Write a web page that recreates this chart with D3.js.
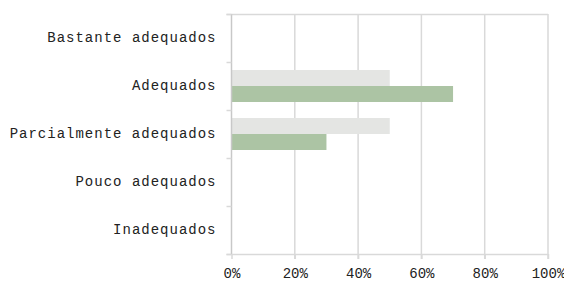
<!DOCTYPE html>
<html>
<head>
<meta charset="utf-8">
<script src="https://cdn.jsdelivr.net/npm/d3@7"></script>
<style>
  body { margin: 0; background: #fff; }
  svg { display: block; }
</style>
</head>
<body>
<div id="chart"></div>
<script>
// categories top to bottom
const categories = ["Bastante adequados", "Adequados", "Parcialmente adequados", "Pouco adequados", "Inadequados"];
const seriesNames = ["Série 1", "Série 2"];
const serie1 = [0, 0.50, 0.50, 0, 0];   // light grey
const serie2 = [0, 0.70, 0.30, 0, 0];   // green
const xTicks = [0, 0.2, 0.4, 0.6, 0.8, 1];

const colors = ["#e4e5e3", "#acc4a4"];

const W = 564, H = 284;
const margin = { top: 14, right: 15, bottom: 30, left: 231.5 };
const width = 548 - margin.left;
const height = 254 - margin.top;

const svg = d3.select("#chart").append("svg")
  .attr("width", W)
  .attr("height", H);

const g = svg.append("g")
  .attr("transform", `translate(${margin.left},${margin.top})`);

const x = d3.scaleLinear().domain([0, 1]).range([0, width]);
const y = d3.scaleBand().domain(categories).range([0, height]).paddingInner(0).paddingOuter(0);
const inner = d3.scaleBand().domain(seriesNames).range([0, y.bandwidth()]).paddingInner(0).paddingOuter(0.5);

// vertical gridlines
g.selectAll(".grid")
  .data(xTicks.slice(1))
  .enter().append("line")
  .attr("x1", d => x(d))
  .attr("x2", d => x(d))
  .attr("y1", 0)
  .attr("y2", height + 5)
  .attr("stroke", "#d9d9d9")
  .attr("stroke-width", 1.5);

// top border line
g.append("line")
  .attr("x1", -5).attr("x2", x(1))
  .attr("y1", 0.5).attr("y2", 0.5)
  .attr("stroke", "#d9d9d9").attr("stroke-width", 1.5);

// bars
const data = [];
categories.forEach((c, i) => {
  data.push({ cat: c, s: seriesNames[0], v: serie1[i] });
  data.push({ cat: c, s: seriesNames[1], v: serie2[i] });
});

g.selectAll(".bar")
  .data(data.filter(d => d.v > 0))
  .enter().append("rect")
  .attr("class", "bar")
  .attr("x", 0)
  .attr("y", d => y(d.cat) + inner(d.s))
  .attr("width", d => x(d.v))
  .attr("height", inner.bandwidth())
  .attr("fill", d => colors[seriesNames.indexOf(d.s)]);

// x axis
const xAxis = g.append("g")
  .attr("transform", `translate(0,${height})`)
  .call(d3.axisBottom(x).tickValues(xTicks).tickFormat(d3.format(".0%")).tickSize(5).tickSizeOuter(0).tickPadding(9));
xAxis.select(".domain").attr("stroke", "#d9d9d9").attr("stroke-width", 1.5).attr("d", `M-5,0.5H${x(1)}`);
xAxis.selectAll(".tick line").attr("stroke", "#d9d9d9").attr("stroke-width", 1.5);
xAxis.selectAll(".tick text")
  .attr("fill", "#222")
  .style("font-family", "'Liberation Mono', monospace")
  .style("font-size", "14px");

// y axis line and ticks at band boundaries
g.append("line")
  .attr("x1", 0).attr("x2", 0)
  .attr("y1", 0).attr("y2", height)
  .attr("stroke", "#c8c8c8").attr("stroke-width", 1.5);

g.selectAll(".ytick")
  .data(d3.range(categories.length + 1))
  .enter().append("line")
  .attr("x1", -5).attr("x2", 0)
  .attr("y1", i => i * y.step() + 0.5)
  .attr("y2", i => i * y.step() + 0.5)
  .attr("stroke", "#d9d9d9").attr("stroke-width", 1.5);

// category labels
g.selectAll(".ylabel")
  .data(categories)
  .enter().append("text")
  .attr("x", -15)
  .attr("y", d => y(d) + y.bandwidth() / 2 - 1)
  .attr("dy", "0.35em")
  .attr("text-anchor", "end")
  .attr("fill", "#222")
  .style("font-family", "'Liberation Mono', monospace")
  .style("font-size", "14px")
  .style("letter-spacing", "1px")
  .text(d => d);
</script>
</body>
</html>
